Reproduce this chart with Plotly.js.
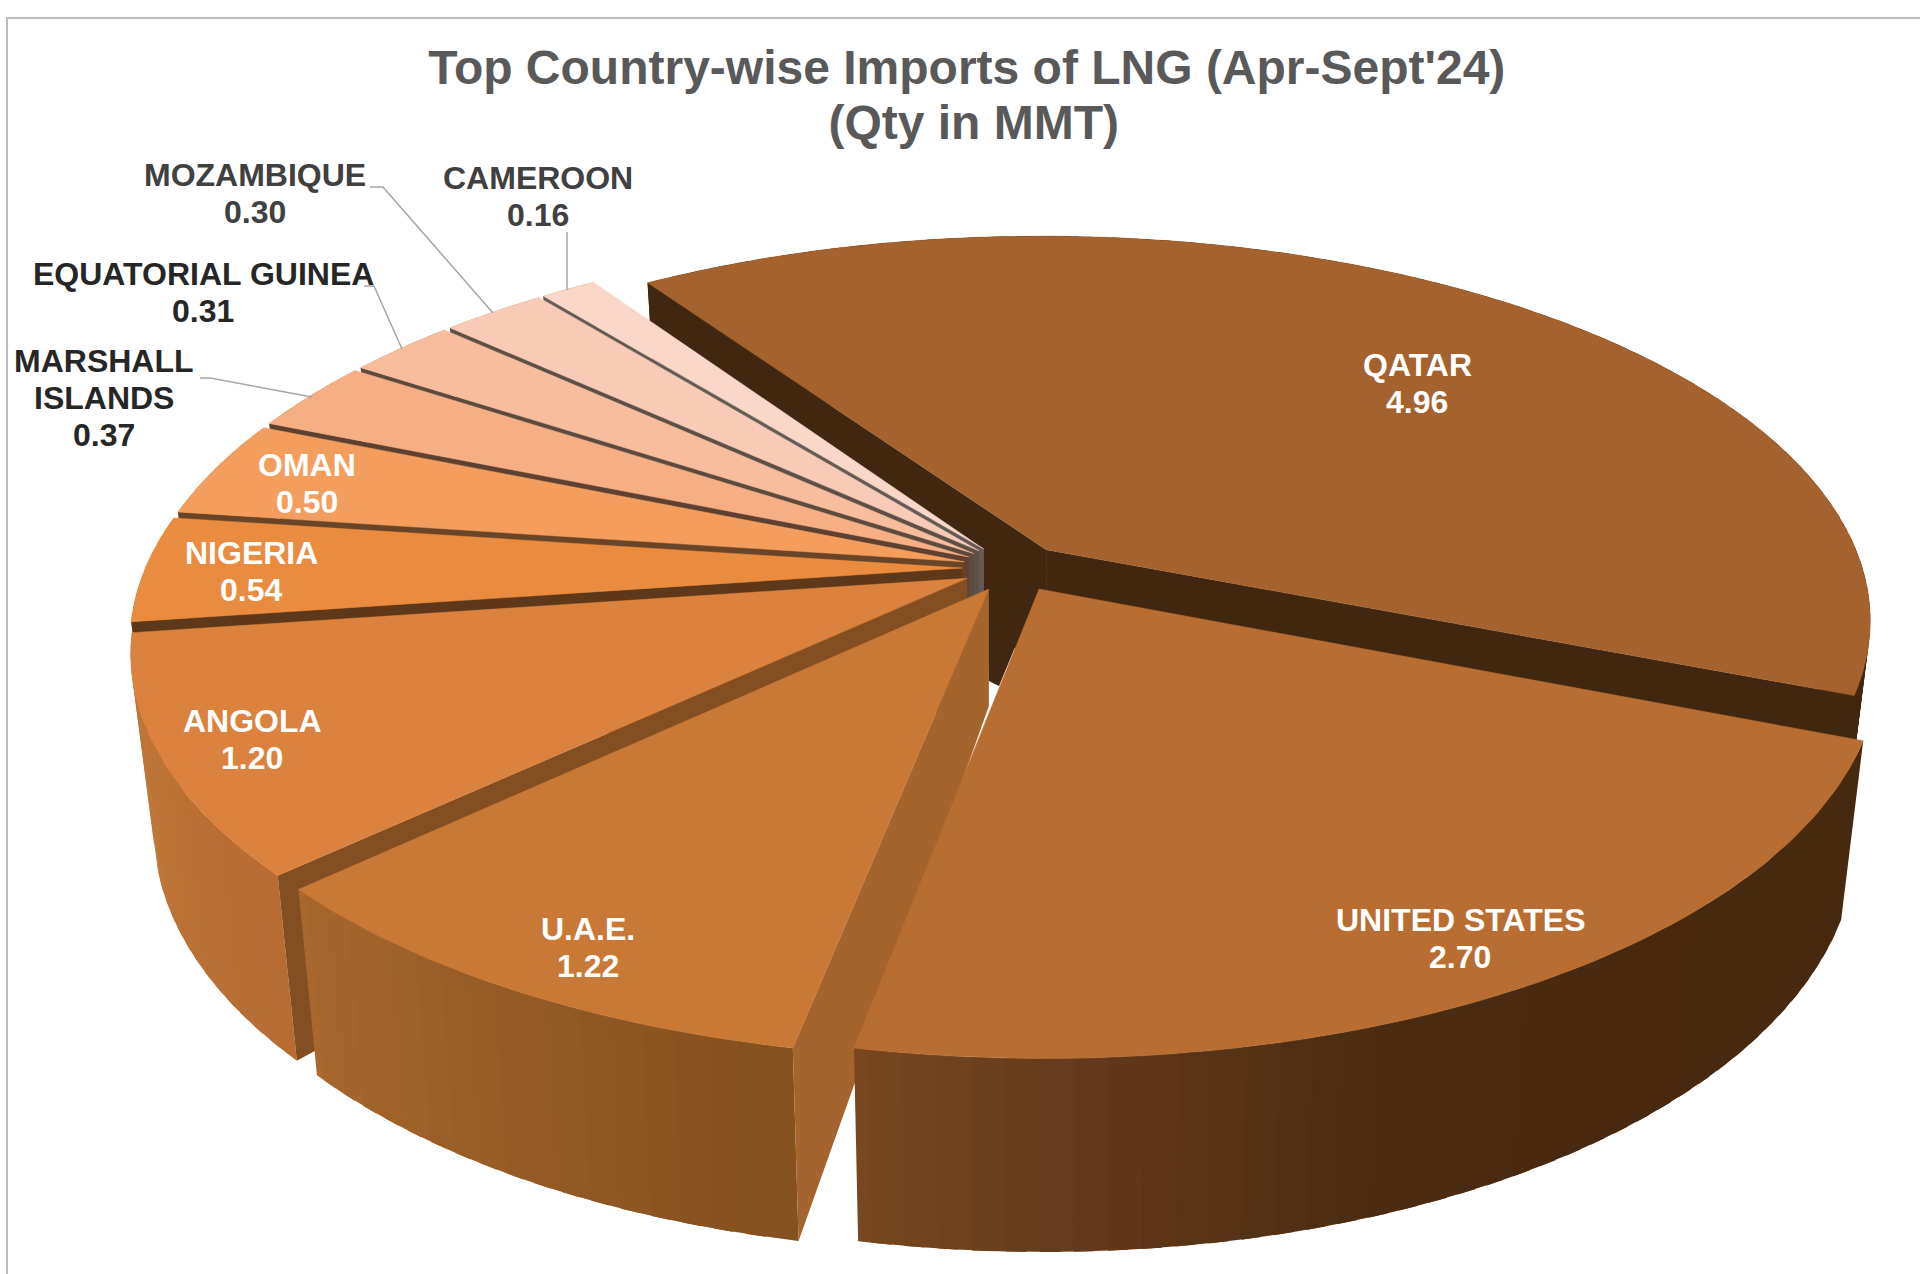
<!DOCTYPE html>
<html>
<head>
<meta charset="utf-8">
<script src="https://cdn.plot.ly/plotly-3.0.1.min.js"></script>
<style>html,body{margin:0;padding:0;background:#fff}#chart{width:1920px;height:1274px}</style>
</head>
<body>
<div id="chart"></div>
<script>
// ---- data ----
const countries = ["QATAR","UNITED STATES","U.A.E.","ANGOLA","NIGERIA","OMAN","MARSHALL ISLANDS","EQUATORIAL GUINEA","MOZAMBIQUE","CAMEROON"];
const values = [4.96,2.70,1.22,1.20,0.54,0.50,0.37,0.31,0.30,0.16];
const labelLines = [["QATAR","4.96"],["UNITED STATES","2.70"],["U.A.E.","1.22"],["ANGOLA","1.20"],["NIGERIA","0.54"],["OMAN","0.50"],["MARSHALL","ISLANDS","0.37"],["EQUATORIAL GUINEA","0.31"],["MOZAMBIQUE","0.30"],["CAMEROON","0.16"]];

// ---- styles ----
const topColors = ["#A4622E","#B86E32","#C97936","#DB823E","#EA8C40","#F39E5E","#F6AF84","#F8BD9C","#F9CBB6","#FAD7C8"];
const faceColors = ["#41270F",null,"#A4642D","#824E22","#5E3818","#6A4426","#5E4030","#5C4A3C","#5F5045","#655A55"];
const sideStops = [
  ["#41270F","#41270F"],
  ["#47290F","#47290F","#47290F","#48290F","#4A2B11","#4C2D12","#5A3418","#6A3E1C","#7A481F"],
  ["#84501F","#A8682F"],
  ["#B66C32","#C27A38"],
  ["#C27A38","#C27A38"],["#C27A38","#C27A38"],["#C27A38","#C27A38"],["#C27A38","#C27A38"],["#C27A38","#C27A38"],["#C27A38","#C27A38"]
];
const labelColors = ["#fff","#fff","#fff","#fff","#fff","#fff","#262626","#262626","#404040","#404040"];
const labelCentres = [[1417,383],[1460,938],[588,947],[252,739],[251,571],[307,483],[104,398],[203,292],[255,193],[538,196]];
const leaders = [
  "M200,378 L210,378 L312,397",
  "M364,286 L374,286 L402,349",
  "M370,187 L383,187 L493,313",
  "M567,232 L567,290"
];

// ---- projection settings ----
const Cx=1014, Cy=568, R=860, S=396, k=0.19;
const startDeg=-34, radius=0.95, explode=0.06, apexDepth=117, lineGap=37, fontSize=32;
const titleLine1Baseline=84, titleLine2Baseline=139, titleLine2Shift=7;

function project(u,v){const w=1-k*v;return [Cx+R*u/w, Cy+S*v/w];}
function lower(p){
  const h=179+(p[1]-743)*0.046;
  return [p[0]+(Cx-p[0])*0.026, p[1]+h];
}
function hex(c){return [1,3,5].map(i=>parseInt(c.substr(i,2),16));}
function mix(stops,t){
  const n=stops.length-1, f=Math.min(n-1e-6,t*n), i=Math.floor(f), g=f-i;
  const a=hex(stops[i]), b=hex(stops[i+1]);
  return "rgb("+a.map((x,j)=>Math.round(x+(b[j]-x)*g)).join(",")+")";
}
const total=values.reduce((a,b)=>a+b,0);
const rad=d=>d*Math.PI/180;

let acc=startDeg;
const geo=values.map((val,i)=>{
  const a0=acc, a1=acc+val/total*360; acc=a1;
  const b=rad((a0+a1)/2);
  const ou=explode*Math.sin(b), ov=-explode*Math.cos(b);
  const pt=a=>project(ou+radius*Math.sin(rad(a)), ov-radius*Math.cos(rad(a)));
  const apex=project(ou,ov);
  return {i,a0,a1,pt,apex,apexLow:[apex[0],apex[1]+apexDepth]};
});

function poly(pts,color,name){
  const xs=pts.map(p=>p[0]), ys=pts.map(p=>p[1]);
  xs.push(xs[0]); ys.push(ys[0]);
  return {type:"scatter",mode:"lines",x:xs,y:ys,fill:"toself",fillcolor:color,
    line:{color:color,width:name?0.5:0},hoverinfo:name?"text":"skip",text:name||undefined,
    hoveron:"fills",showlegend:false};
}
function sliceTraces(g,withEnd){
  const out=[];
  const n=Math.max(2,Math.ceil((g.a1-g.a0)/2));
  if(withEnd){
    const e=g.pt(g.a1);
    out.push(poly([g.apex,e,lower(e),g.apexLow],faceColors[g.i]));
  }
  const step=(g.a1-g.a0)/n;
  // drawn from the far end back, each strip overlapping the one drawn before it so no seams show
  for(let j=n-1;j>=0;j--){
    const a=g.a0+step*j, b=g.a1-step*(n-1-j)+(j<n-1?step*0.6:0);
    const poly4=[];
    const steps=3;
    for(let m=0;m<=steps;m++) poly4.push(g.pt(a+(b-a)*m/steps));
    for(let m=steps;m>=0;m--) poly4.push(lower(g.pt(a+(b-a)*m/steps)));
    out.push(poly(poly4,mix(sideStops[g.i],(j+0.5)/n)));
  }
  if(faceColors[g.i]){
    const s=g.pt(g.a0);
    out.push(poly([g.apex,s,lower(s),g.apexLow],faceColors[g.i]));
  }
  const rim=[];
  for(let j=0;j<=n*2;j++) rim.push(g.pt(g.a0+(g.a1-g.a0)*j/(n*2)));
  out.push(poly([g.apex].concat(rim),topColors[g.i],countries[g.i]+": "+values[g.i].toFixed(2)));
  return out;
}

let traces=[];
// Qatar at the back
traces=traces.concat(sliceTraces(geo[0],true));
// dark core and grey inner column
const qa=geo[0].apex, ua=geo[1].apex, ea=geo[2].apex;
traces.push(poly([qa,ua,[ua[0]-40,ua[1]+97],[ea[0],ea[1]+92],[ea[0]-5,qa[1]]],"#41270F"));
const colL=ea[0]-23, colM=ea[0]-14, colR=ea[0]-5;
traces.push(poly([[colL,qa[1]],[colM,qa[1]],[colM,ea[1]+9],[colL,ea[1]+9]],"#5F5043"));
traces.push(poly([[colM,qa[1]],[colR,qa[1]],[colR,ea[1]+9],[colM,ea[1]+9]],"#686068"));
// small slices, then Angola, U.A.E. and United States
[9,8,7,6,5,4,3,2,1].forEach(i=>{traces=traces.concat(sliceTraces(geo[i],false));});

// ---- annotations ----
const annotations=[];
labelLines.forEach((lines,i)=>{
  lines.forEach((t,j)=>{
    annotations.push({x:labelCentres[i][0],y:labelCentres[i][1]+(j-(lines.length-1)/2)*lineGap,
      xref:"x",yref:"y",text:t,showarrow:false,xanchor:"center",yanchor:"middle",
      font:{family:"Liberation Sans, Arial, sans-serif",size:fontSize,color:labelColors[i],weight:700}});
  });
});
const shapes=leaders.map(p=>({type:"path",path:p,xref:"x",yref:"y",line:{color:"#A6A6A6",width:1.5}}));
shapes.push({type:"path",path:"M7,1274 L7,18 L1920,18",xref:"x",yref:"y",line:{color:"#BDBDBD",width:2}});

const layout={
  width:1920,height:1274,
  margin:{l:0,r:0,t:0,b:0},
  paper_bgcolor:"#fff",plot_bgcolor:"#fff",
  title:{text:"<b>Top Country-wise Imports of LNG (Apr-Sept'24)<br>(Qty in MMT)</b>",
    x:0.5035,xanchor:"center",y:0.95,yanchor:"top",
    font:{family:"Liberation Sans, Arial, sans-serif",size:48,color:"#595959"}},
  xaxis:{range:[0,1920],visible:false,fixedrange:true},
  yaxis:{range:[1274,0],visible:false,fixedrange:true},
  annotations,shapes,showlegend:false
};
Plotly.newPlot("chart",traces,layout,{displayModeBar:false,staticPlot:true}).then(()=>{
  // tighten the title's line spacing to the reference's
  const t=document.querySelector(".gtitle");
  const lines=document.querySelectorAll(".gtitle tspan.line");
  if(t&&lines.length===2){
    t.setAttribute("transform","");
    const x=parseFloat(lines[0].getAttribute("x"))||parseFloat(t.getAttribute("x"));
    lines[0].setAttribute("y",titleLine1Baseline);
    lines[1].removeAttribute("dy");
    lines[1].setAttribute("y",titleLine2Baseline);
    lines[1].setAttribute("x",x+titleLine2Shift);
    t.setAttribute("y",titleLine1Baseline);
  }
});
</script>
</body>
</html>
